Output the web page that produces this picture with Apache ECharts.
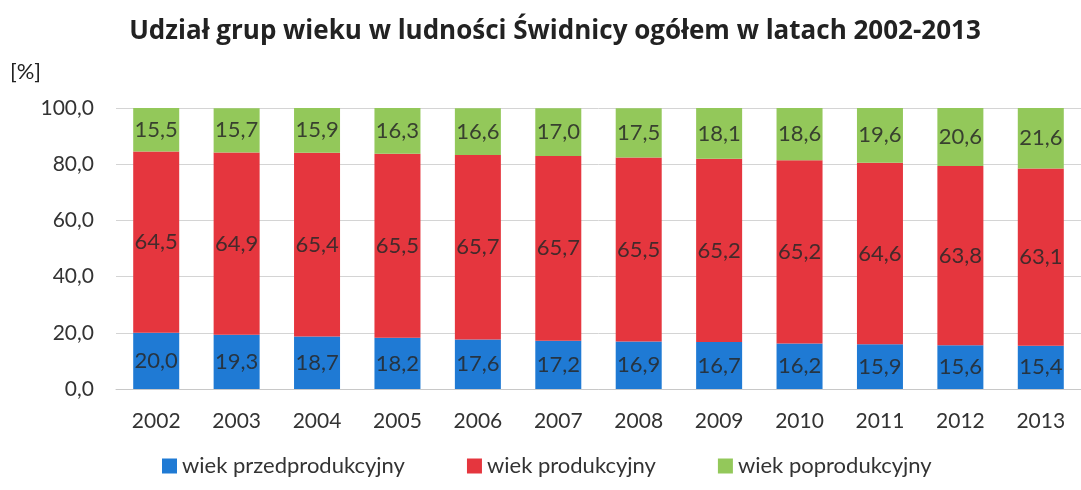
<!DOCTYPE html>
<html>
<head>
<meta charset="utf-8">
<script src="https://cdn.jsdelivr.net/npm/echarts@6/dist/echarts.min.js"></script>
<style>
html, body { margin: 0; padding: 0; background: #fff; }
#main { width: 1081px; height: 490px; }
</style>
</head>
<body>
<div id="main"></div>
<script>
var years = ['2002','2003','2004','2005','2006','2007','2008','2009','2010','2011','2012','2013'];
var przedprodukcyjny = [20.0, 19.3, 18.7, 18.2, 17.6, 17.2, 16.9, 16.7, 16.2, 15.9, 15.6, 15.4];
var produkcyjny = [64.5, 64.9, 65.4, 65.5, 65.7, 65.7, 65.5, 65.2, 65.2, 64.6, 63.8, 63.1];
var poprodukcyjny = [15.5, 15.7, 15.9, 16.3, 16.6, 17.0, 17.5, 18.1, 18.6, 19.6, 20.6, 21.6];
var seriesNames = ['wiek przedprodukcyjny', 'wiek produkcyjny', 'wiek poprodukcyjny'];

var font = 'Lato';
var chart = echarts.init(document.getElementById('main'));

// etykiety z przecinkiem dziesietnym
function fmt(p) {
    return p.value.toFixed(1).replace('.', ',');
}
function barLabel() {
    return {
        show: true,
        position: 'inside',
        formatter: fmt,
        color: 'rgba(40,40,40,0.85)',
        fontFamily: font,
        fontSize: 22
    };
}

var option = {
    animation: false,
    title: {
        text: 'Udział grup wieku w ludności Świdnicy ogółem w latach 2002-2013',
        left: 550,
        textAlign: 'center',
        top: 14,
        textStyle: { fontFamily: 'Open Sans', fontWeight: 'bold', fontSize: 26, color: '#222' }
    },
    legend: {
        bottom: 8,
        left: 157,
        itemWidth: 15,
        itemHeight: 15,
        itemGap: 62,
        icon: 'rect',
        textStyle: { fontFamily: font, fontSize: 22, color: '#333' },
        data: seriesNames
    },
    grid: { left: 116, right: -16, top: 108, bottom: 101 },
    xAxis: {
        type: 'category',
        data: years,
        axisTick: { show: false },
        axisLine: { lineStyle: { color: '#c8c8c8' } },
        axisLabel: { fontFamily: font, fontSize: 21, color: '#333', margin: 22 }
    },
    yAxis: {
        type: 'value',
        min: 0,
        max: 100,
        interval: 20,
        name: '[%]',
        nameLocation: 'end',
        nameGap: 25,
        nameTextStyle: { fontFamily: font, fontSize: 22, color: '#222', align: 'left', padding: [0, 0, 0, -106] },
        axisLabel: {
            fontFamily: font, fontSize: 21, color: '#333', margin: 22,
            formatter: function (v) { return v.toFixed(1).replace('.', ','); }
        },
        splitLine: { lineStyle: { color: '#d4d4d4' } }
    },
    series: [
        { name: seriesNames[0], type: 'bar', stack: 'a', barWidth: 46, data: przedprodukcyjny,
          itemStyle: { color: '#1f7ad4' }, label: barLabel() },
        { name: seriesNames[1], type: 'bar', stack: 'a', barWidth: 46, data: produkcyjny,
          itemStyle: { color: '#e5363e' }, label: barLabel() },
        { name: seriesNames[2], type: 'bar', stack: 'a', barWidth: 46, data: poprodukcyjny,
          itemStyle: { color: '#93c85a' }, label: barLabel() }
    ]
};
chart.setOption(option);
</script>
</body>
</html>
